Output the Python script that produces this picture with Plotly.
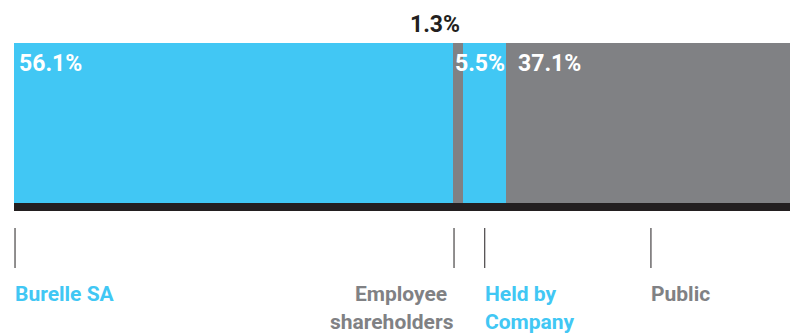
import plotly.graph_objects as go

categories = ["Burelle SA", "Employee shareholders", "Held by Company", "Public"]
values = [56.1, 1.3, 5.5, 37.1]
value_labels = ["56.1%", "1.3%", "5.5%", "37.1%"]
bottom_lines = [["Burelle SA"], ["Employee", "shareholders"], ["Held by", "Company"], ["Public"]]
marker_pos = [0.13, 56.27, 60.2, 81.45]

BLUE = "#41c7f4"
GRAY = "#808184"
DARK = "#231f20"
seg_colors = [BLUE, GRAY, BLUE, GRAY]

fig = go.Figure()
for cat, v, c in zip(categories, values, seg_colors):
    fig.add_trace(go.Bar(
        x=[v], y=[0.5], width=[1], orientation="h", name=cat,
        marker=dict(color=c, line=dict(width=0)), hoverinfo="skip",
    ))

starts = [sum(values[:i]) for i in range(len(values))]

PX = 7.82
W, H = 790, 334
ML, MT, MB = 14, 43, 334 - 211
plot_h = H - MT - MB

def py(p):
    return (H - MB - p) / plot_h

annotations = []
label_font = dict(family="Roboto, Arial, sans-serif", size=23, color="white", weight="bold")
shifts = {0: 3, 2: -10, 3: 10}
for i in [0, 2, 3]:
    annotations.append(dict(
        x=starts[i], y=py(48), xref="x", yref="paper", xanchor="left", yanchor="top",
        text=value_labels[i], showarrow=False, xshift=shifts[i], font=label_font,
    ))
annotations.append(dict(
    x=starts[1] + values[1], y=py(40), xref="x", yref="paper", xanchor="right", yanchor="bottom",
    text=value_labels[1], showarrow=False, xshift=-1,
    font=dict(family="Roboto, Arial, sans-serif", size=23, color=DARK, weight="bold"),
))

text_colors = [BLUE, GRAY, BLUE, GRAY]
anchors = ["left", "right", "left", "left"]
line_shift = {(1, 0): -5, (1, 1): 2}
for i, lines in enumerate(bottom_lines):
    for j, ln in enumerate(lines):
        annotations.append(dict(
            x=marker_pos[i], y=py(280 + 28 * j), xref="x", yref="paper",
            xanchor=anchors[i], yanchor="top",
            text=ln, showarrow=False,
            xshift=line_shift.get((i, j), -2),
            font=dict(family="Roboto, Arial, sans-serif", size=21, color=text_colors[i], weight="bold"),
        ))

shapes = []
shapes.append(dict(type="rect", xref="paper", yref="y", x0=0, x1=1, y0=-0.05, y1=0,
                   fillcolor=DARK, line=dict(width=0), layer="above"))
for m in marker_pos:
    shapes.append(dict(type="line", xref="x", yref="paper", x0=m, x1=m,
                       y0=py(228), y1=py(268), line=dict(color=DARK, width=1)))

fig.update_layout(
    width=W, height=H,
    margin=dict(l=ML, r=0, t=MT, b=MB, pad=0),
    barmode="stack", bargap=0,
    showlegend=False,
    plot_bgcolor="white", paper_bgcolor="white",
    xaxis=dict(range=[0, (W - ML) / PX], visible=False, fixedrange=True),
    yaxis=dict(range=[-0.05, 1], visible=False, fixedrange=True),
    annotations=annotations, shapes=shapes,
)

fig.write_html("out.html", config={"displayModeBar": False})
